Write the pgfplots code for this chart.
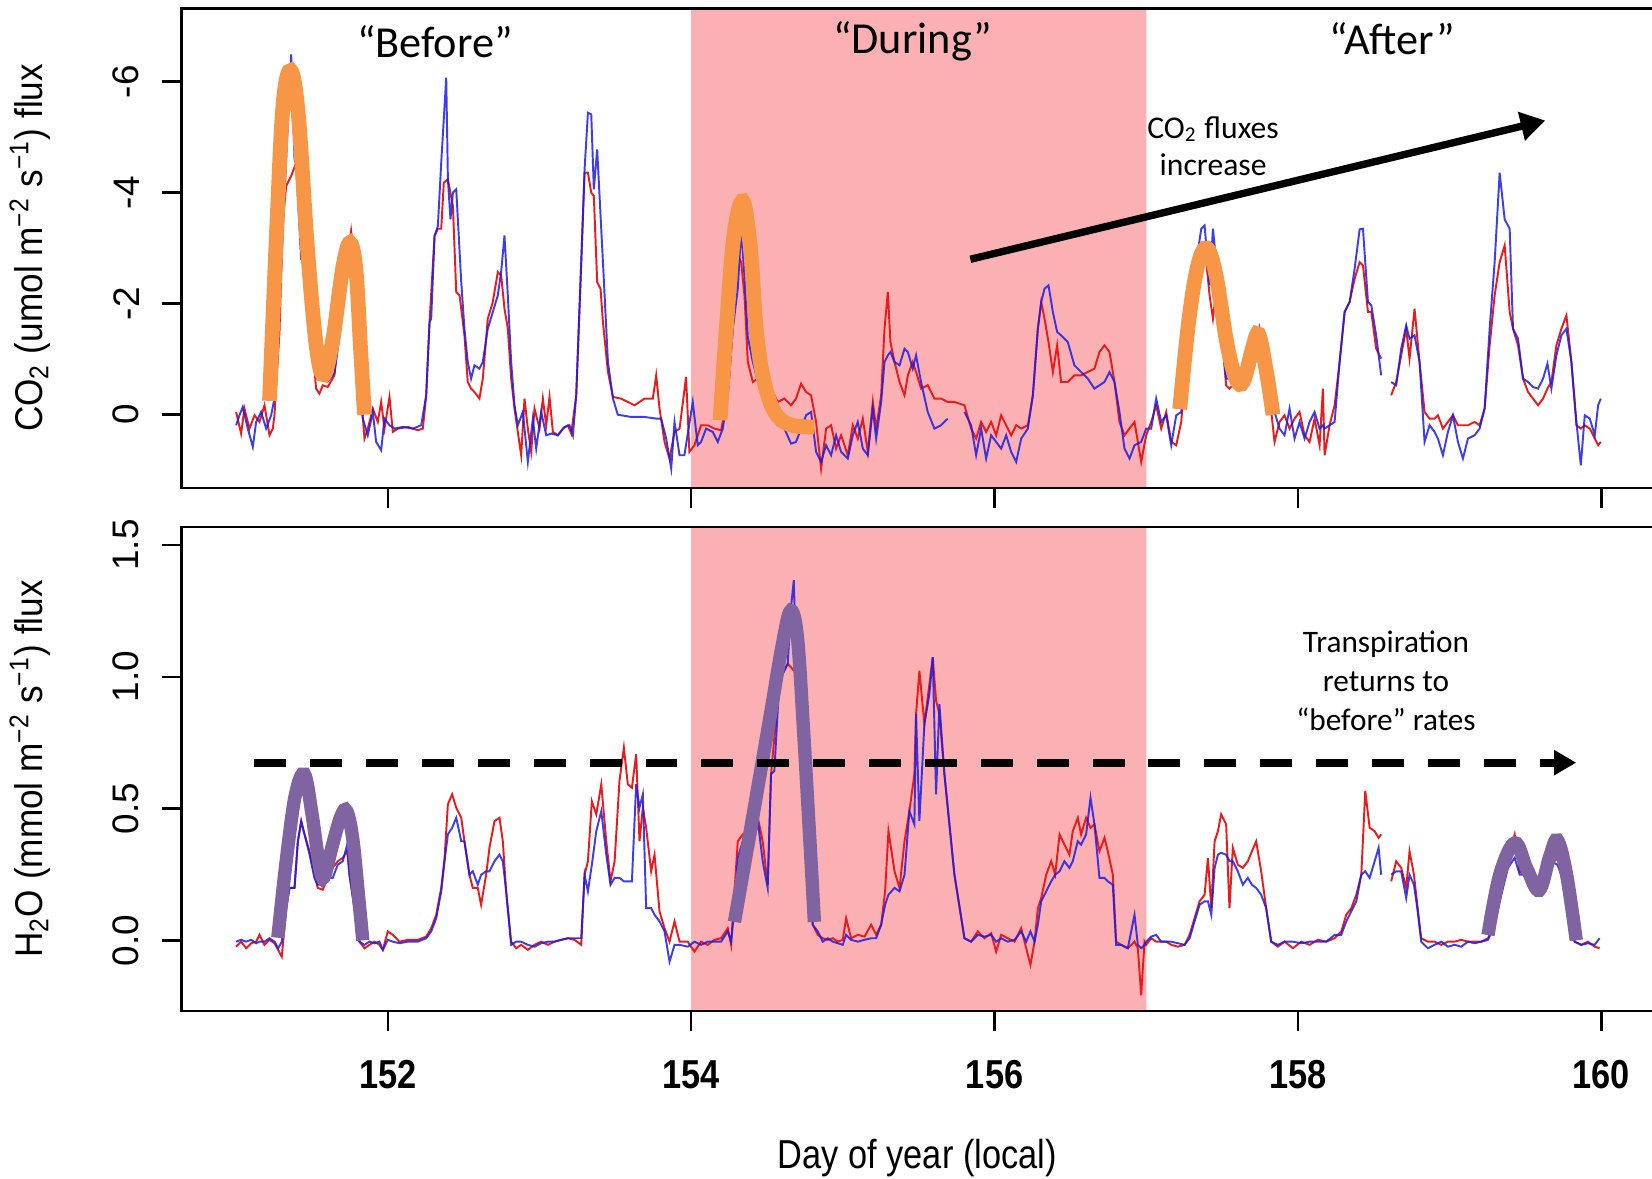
\documentclass[border=0pt]{standalone}
\usepackage{fontspec}
\setmainfont{Liberation Sans}
\newfontfamily\calibri{Carlito}
\usepackage{pgfplots}
\pgfplotsset{compat=1.18}
\usetikzlibrary{arrows.meta}

\definecolor{fluxred}{RGB}{232,28,28}
\definecolor{fluxblue}{RGB}{28,28,228}
\definecolor{droughtpink}{RGB}{251,177,180}
\definecolor{annorange}{RGB}{247,150,70}
\definecolor{annpurple}{RGB}{128,100,162}

\pgfplotsset{
  fluxpanel/.style={
    scale only axis,
    width=14.715cm,
    xmin=150.64, xmax=160.34,
    xtick={152,154,156,158,160},
    tick align=outside,
    major tick length=0.2cm,
    xtick pos=left, ytick pos=left,
    axis line style={line width=0.7pt},
    every tick/.style={black, line width=0.7pt},
    unbounded coords=jump,
    axis on top,
    yticklabel style={xshift=-0.1cm, rotate=90, anchor=south, font=\fontsize{10.5}{12}\selectfont},
  },
  redline/.style={fluxred, line width=0.55pt},
  blueline/.style={fluxblue, line width=0.55pt, opacity=0.85},
}

\begin{document}
\begin{tikzpicture}
\useasboundingbox (0,0) rectangle (16.52,11.78);

% ---------------- CO2 panel ----------------
\begin{axis}[fluxpanel,
  at={(1.815cm,6.90cm)}, anchor=south west,
  height=4.796cm,
  y dir=reverse,
  ymin=-7.32, ymax=1.32,
  ytick={-6,-4,-2,0}, yticklabels={-6,-4,-2,0},
  xticklabels={,,,,},
]
  % drought period
  \addplot[fill=droughtpink, draw=none] coordinates {(154,-7.32) (157,-7.32) (157,1.32) (154,1.32)} \closedcycle;

  \addplot[redline] coordinates {
    (151.000,-0.05) (151.033,0.34) (151.055,-0.11) (151.088,0.25) (151.121,0.01) (151.154,0.13) (151.187,-0.17) (151.220,0.37)
    (151.242,0.25) (151.253,0.0) (151.286,-1.5) (151.308,-3.5) (151.330,-4.12) (151.363,-4.3) (151.396,-4.54) (151.429,-2.8)
    (151.451,-2.75) (151.495,-1.55) (151.527,-0.47) (151.549,-0.38) (151.571,-0.53) (151.604,-0.50) (151.648,-0.71) (151.681,-1.55)
    (151.725,-2.63) (151.758,-3.31) (151.780,-2.75) (151.802,-1.55) (151.824,-0.35) (151.846,0.43) (151.868,0.25) (151.901,-0.11)
    (151.934,0.13) (151.956,-0.23) (151.978,0.25) (152.011,-0.32) (152.033,0.31) (152.066,0.25) (152.132,0.22) (152.198,0.28)
    (152.231,0.25) (152.253,-0.35) (152.275,-1.67) (152.308,-3.22) (152.330,-3.35) (152.352,-3.35) (152.369,-4.18) (152.396,-4.24)
    (152.429,-3.76) (152.451,-2.21) (152.473,-2.15) (152.505,-1.43) (152.527,-0.59) (152.549,-0.47) (152.571,-0.41) (152.604,-0.29)
    (152.626,-0.65) (152.659,-1.73) (152.692,-2.03) (152.725,-2.57) (152.747,-2.51) (152.769,-1.91) (152.791,-1.55) (152.813,-0.65)
    (152.835,-0.11) (152.857,0.31) (152.879,0.73) (152.901,-0.29) (152.923,0.25) (152.945,0.67) (152.967,-0.11) (153.000,0.25)
    (153.022,-0.29) (153.044,0.19) (153.066,-0.32) (153.088,0.31) (153.121,0.37) (153.154,0.25) (153.187,0.19) (153.209,0.34)
    (153.242,-0.35) (153.275,-2.75) (153.297,-4.36) (153.319,-4.36) (153.341,-4.0) (153.358,-3.94) (153.380,-2.39) (153.402,-2.27)
    (153.418,-1.67) (153.451,-0.77) (153.484,-0.32) (153.538,-0.29) (153.626,-0.17) (153.692,-0.29) (153.747,-0.29) (153.769,-0.71)
    (153.791,-0.11) (153.824,0.49) (153.857,0.79) (153.890,0.31) (153.923,0.25)
    (153.966,-0.68) (153.988,0.67) (154.021,0.55) (154.065,0.19) (154.109,0.19) (154.153,0.25) (154.197,0.28) (154.241,-0.35)
    (154.274,-1.55) (154.307,-2.87) (154.329,-2.75) (154.351,-2.15) (154.373,-0.95) (154.406,-0.59) (154.439,-0.65) (154.482,-0.41)
    (154.526,-0.47) (154.570,-0.23) (154.614,-0.29) (154.658,-0.17) (154.691,-0.29) (154.724,-0.56) (154.757,-0.41) (154.790,-0.35)
    (154.823,0.13) (154.856,0.97) (154.889,0.25) (154.922,0.19) (154.955,0.61) (154.988,0.37) (155.032,0.73) (155.065,0.19)
    (155.098,0.43) (155.131,0.07) (155.164,0.67) (155.197,-0.23) (155.219,0.25) (155.252,-0.35) (155.274,-1.55) (155.296,-2.21)
    (155.313,-1.31) (155.340,-0.95) (155.373,-0.59) (155.406,-0.35) (155.428,-0.71) (155.460,-0.95) (155.482,-0.77) (155.515,-0.47)
    (155.559,-0.53) (155.603,-0.29) (155.647,-0.29) (155.691,-0.23) (155.735,-0.23) (155.801,-0.17) (155.845,0.25) (155.878,0.43)
    (155.911,0.13) (155.944,0.31) (155.977,0.13) (156.010,0.37) (156.043,0.01) (156.076,0.19) (156.109,0.37) (156.142,0.19)
    (156.175,0.25) (156.219,0.19) (156.252,-0.35) (156.285,-1.55) (156.307,-2.03) (156.329,-1.73) (156.355,-1.31) (156.384,-0.77)
    (156.412,-1.25) (156.438,-0.59) (156.482,-0.59) (156.526,-0.71) (156.570,-0.71) (156.614,-0.77) (156.658,-0.83) (156.691,-1.13)
    (156.724,-1.25) (156.757,-1.13) (156.790,-0.59) (156.823,0.13) (156.856,0.37) (156.889,0.25) (156.922,0.13) (156.966,0.85)
    (156.999,0.37)
    (157.032,0.13) (157.065,-0.17) (157.098,0.25) (157.131,-0.05) (157.164,0.49) (157.197,0.55) (157.230,0.13) (157.263,-0.95)
    (157.296,-2.15) (157.329,-2.75) (157.362,-2.87) (157.384,-3.05) (157.417,-2.15) (157.439,-1.73) (157.461,-2.27) (157.493,-1.55)
    (157.526,-0.53) (157.548,-0.47) (157.592,-0.59) (157.636,-0.53) (157.669,-0.59) (157.713,-0.89) (157.746,-1.55) (157.779,-1.07)
    (157.812,-0.35) (157.845,0.49) (157.878,0.13) (157.911,0.01) (157.944,0.25) (157.977,0.07) (158.010,-0.05) (158.043,0.37)
    (158.076,0.49) (158.109,0.07) (158.142,0.55) (158.164,-0.47) (158.175,0.73) (158.208,0.19) (158.241,-0.17) (158.274,-0.95)
    (158.307,-1.85) (158.340,-2.03) (158.373,-2.45) (158.406,-2.75) (158.428,-2.69) (158.461,-1.85) (158.483,-1.85) (158.515,-1.19)
    (158.548,-1.01) (158.580,nan)
    (158.614,-0.35) (158.647,-0.59) (158.680,-1.07) (158.713,-1.55) (158.735,-1.01) (158.768,-1.91) (158.801,-0.95) (158.834,-0.05)
    (158.867,0.07) (158.900,0.07) (158.922,0.01) (158.955,0.25) (158.988,0.13) (159.021,0.01) (159.054,0.19) (159.087,0.19)
    (159.120,0.19) (159.164,0.13) (159.197,0.19) (159.230,-0.11) (159.263,-1.25) (159.296,-2.15) (159.329,-2.75) (159.362,-3.05)
    (159.395,-1.85) (159.417,-1.55) (159.450,-1.25) (159.483,-0.65) (159.516,-0.41) (159.549,-0.29) (159.582,-0.17) (159.615,-0.29)
    (159.644,-0.47) (159.670,-0.59) (159.703,-1.25) (159.736,-1.55) (159.769,-1.79) (159.802,-0.95) (159.835,0.19) (159.864,0.25)
    (159.890,0.19) (159.923,0.25) (159.956,0.43) (159.978,0.55) (159.996,0.49)
  };

  \addplot[blueline] coordinates {
    (151.000,0.19) (151.022,0.01) (151.044,-0.14) (151.077,0.25) (151.110,0.58) (151.132,0.13) (151.165,-0.05) (151.198,0.25)
    (151.231,0.01) (151.253,-0.3) (151.297,-2.63) (151.330,-4.6) (151.363,-6.49) (151.385,-4.6) (151.396,-4.5) (151.429,-2.9)
    (151.462,-2.3) (151.495,-1.5) (151.527,-0.8) (151.571,-0.7) (151.604,-0.6) (151.648,-0.75) (151.681,-1.4) (151.725,-2.5)
    (151.747,-3.0) (151.769,-2.9) (151.791,-1.8) (151.813,-0.7) (151.835,0.07) (151.868,0.37) (151.901,-0.05) (151.923,0.49)
    (151.956,0.64) (151.978,0.07) (152.011,0.19) (152.044,0.25) (152.099,0.22) (152.165,0.25) (152.220,0.19) (152.253,-0.35)
    (152.275,-1.67) (152.286,-1.73) (152.308,-3.22) (152.330,-3.4) (152.352,-4.54) (152.385,-6.07) (152.396,-4.24) (152.413,-3.52)
    (152.429,-4.0) (152.451,-4.06) (152.484,-2.39) (152.505,-1.55) (152.527,-0.95) (152.549,-0.65) (152.571,-0.89) (152.604,-0.83)
    (152.626,-0.95) (152.659,-1.55) (152.692,-1.85) (152.725,-2.15) (152.747,-2.57) (152.769,-3.23) (152.791,-2.15) (152.813,-0.95)
    (152.835,-0.17) (152.857,0.19) (152.890,-0.05) (152.923,0.85) (152.956,0.07) (152.978,0.61) (153.011,-0.05) (153.044,0.37)
    (153.077,0.34) (153.121,0.37) (153.165,0.22) (153.198,0.19) (153.220,0.37) (153.242,-0.35) (153.275,-2.75) (153.297,-4.42)
    (153.319,-5.44) (153.341,-5.41) (153.358,-4.06) (153.380,-4.78) (153.418,-2.75) (153.451,-0.95) (153.484,-0.29) (153.516,0.0)
    (153.604,0.04) (153.692,0.04) (153.769,0.07) (153.802,0.07) (153.835,0.43) (153.868,0.97) (153.890,0.13) (153.923,0.73)
    (153.955,0.73) (154.010,-0.23) (154.043,0.55) (154.065,0.49) (154.098,0.25) (154.142,0.31) (154.175,0.49) (154.208,0.25)
    (154.241,-0.35) (154.274,-1.55) (154.307,-2.27) (154.329,-3.35) (154.351,-2.5) (154.373,-1.4) (154.406,-0.95) (154.439,-0.6)
    (154.482,-0.35) (154.526,-0.17) (154.570,0.19) (154.614,0.25) (154.658,0.52) (154.691,0.49) (154.724,0.25) (154.757,0.01)
    (154.790,-0.05) (154.823,0.67) (154.856,0.85) (154.889,0.55) (154.922,0.73) (154.955,0.37) (154.988,0.67) (155.032,0.79)
    (155.065,0.37) (155.098,0.13) (155.131,0.61) (155.164,0.73) (155.197,-0.11) (155.219,0.43) (155.252,-0.23) (155.274,-0.95)
    (155.296,-1.07) (155.313,-1.13) (155.340,-0.95) (155.373,-0.89) (155.406,-1.19) (155.428,-1.13) (155.460,-0.83) (155.482,-1.07)
    (155.515,-0.59) (155.559,-0.05) (155.603,0.25) (155.647,0.19) (155.691,0.07) (155.750,nan)
    (155.801,-0.05) (155.845,0.19) (155.878,0.73) (155.911,0.25) (155.944,0.79) (155.977,0.37) (156.010,0.49) (156.043,0.61)
    (156.076,0.37) (156.109,0.67) (156.142,0.85) (156.175,0.43) (156.219,0.25) (156.252,-0.35) (156.285,-1.55) (156.307,-2.03)
    (156.329,-2.27) (156.355,-2.33) (156.384,-1.85) (156.412,-1.49) (156.438,-1.43) (156.482,-1.31) (156.526,-0.89) (156.570,-0.77)
    (156.614,-0.65) (156.658,-0.47) (156.691,-0.53) (156.724,-0.59) (156.757,-0.77) (156.790,-0.59) (156.823,-0.05) (156.856,0.61)
    (156.889,0.79) (156.922,0.55) (156.966,0.49) (156.999,0.25)
    (157.032,0.25) (157.065,-0.29) (157.098,0.13) (157.131,0.01) (157.164,0.55) (157.197,0.01) (157.230,-0.05) (157.263,-0.95)
    (157.296,-1.85) (157.329,-2.75) (157.362,-3.35) (157.384,-3.41) (157.417,-2.33) (157.439,-3.35) (157.461,-2.75) (157.493,-1.55)
    (157.526,-0.65) (157.548,-0.65) (157.592,-0.59) (157.636,-0.47) (157.669,-0.65) (157.713,-0.89) (157.746,-1.25) (157.779,-0.95)
    (157.812,-0.35) (157.845,-0.05) (157.878,0.25) (157.911,0.37) (157.944,-0.11) (157.977,0.43) (158.010,0.13) (158.043,0.43)
    (158.076,0.13) (158.109,-0.05) (158.142,0.25) (158.164,0.19) (158.175,0.25) (158.208,0.19) (158.241,0.13) (158.274,-0.95)
    (158.307,-1.85) (158.340,-2.03) (158.373,-2.63) (158.406,-3.34) (158.428,-3.35) (158.461,-2.03) (158.483,-1.97) (158.515,-1.43)
    (158.548,-0.71) (158.580,nan)
    (158.614,-0.59) (158.647,-0.53) (158.680,-1.19) (158.713,-1.61) (158.735,-1.37) (158.768,-1.43) (158.801,-0.95) (158.834,0.49)
    (158.867,0.19) (158.900,0.31) (158.922,0.43) (158.955,0.73) (158.988,0.31) (159.021,0.01) (159.054,0.49) (159.087,0.79)
    (159.120,0.43) (159.164,0.37) (159.197,0.25) (159.230,-0.11) (159.263,-1.55) (159.296,-2.75) (159.329,-4.36) (159.362,-3.52)
    (159.395,-3.35) (159.417,-1.55) (159.450,-1.37) (159.483,-0.65) (159.516,-0.59) (159.549,-0.50) (159.582,-0.47) (159.615,-0.65)
    (159.644,-0.92) (159.670,-0.47) (159.703,-1.07) (159.736,-1.43) (159.769,-1.55) (159.802,-0.95) (159.835,0.13) (159.864,0.91)
    (159.890,0.01) (159.923,0.07) (159.956,0.37) (159.978,-0.17) (159.996,-0.29)
  };

  % hand-drawn highlights
  \addplot[annorange, line width=4.2pt, smooth, tension=0.6] coordinates {
    (151.22,-0.25) (151.27,-3.5) (151.31,-5.6) (151.36,-6.2) (151.41,-5.4) (151.47,-3.0) (151.53,-1.2) (151.58,-0.72)
    (151.64,-1.4) (151.70,-2.6) (151.75,-3.1) (151.79,-2.6) (151.82,-1.2) (151.846,0.0)
  };
  \addplot[annorange, line width=4.2pt, smooth, tension=0.6] coordinates {
    (154.19,0.1) (154.23,-1.5) (154.28,-3.2) (154.34,-3.85) (154.39,-3.0) (154.43,-1.5) (154.48,-0.6) (154.55,-0.05)
    (154.65,0.18) (154.81,0.22)
  };
  \addplot[annorange, line width=4.2pt, smooth, tension=0.6] coordinates {
    (157.22,-0.1) (157.28,-1.7) (157.34,-2.7) (157.40,-3.0) (157.46,-2.5) (157.53,-1.3) (157.59,-0.65) (157.64,-0.6)
    (157.70,-1.2) (157.74,-1.45) (157.79,-0.8) (157.835,0.0)
  };

  \draw[line width=2.1pt, -{Triangle[length=7pt, width=8pt]}] (axis cs:155.84,-2.80) -- (axis cs:159.63,-5.30);

  \node[font=\calibri\fontsize{12.6}{15}\selectfont] at (axis cs:152.31,-6.72) {“Before”};
  \node[font=\calibri\fontsize{12.6}{15}\selectfont] at (axis cs:155.46,-6.72) {“During”};
  \node[font=\calibri\fontsize{12.6}{15}\selectfont] at (axis cs:158.62,-6.78) {“After”};
  \node[align=center, font=\calibri\fontsize{9}{10.5}\selectfont] at (axis cs:157.44,-4.84) {CO\textsubscript{2} fluxes\\increase};
\end{axis}

% ---------------- H2O panel ----------------
\begin{axis}[fluxpanel,
  at={(1.815cm,1.67cm)}, anchor=south west,
  height=4.84cm,
  ymin=-0.268, ymax=1.568,
  ytick={0,0.5,1,1.5}, yticklabels={0.0,0.5,1.0,1.5},
  xticklabels={\scalebox{0.85}[1]{152},\scalebox{0.85}[1]{154},\scalebox{0.85}[1]{156},\scalebox{0.85}[1]{158},\scalebox{0.85}[1]{160}},
  xticklabel style={font=\bfseries\fontsize{11.5}{13}\selectfont, yshift=-0.17cm},
  xlabel={\scalebox{0.85}[1]{Day of year (local)}},
  xlabel style={at={(rel axis cs:0.5,0)}, yshift=-1.47cm, anchor=center, font=\fontsize{11.5}{13}\selectfont},
]
  \addplot[fill=droughtpink, draw=none] coordinates {(154,-0.268) (157,-0.268) (157,1.568) (154,1.568)} \closedcycle;

  \addplot[redline] coordinates {
    (151.000,-0.024) (151.033,-0.005) (151.066,-0.030) (151.099,-0.011) (151.132,-0.005) (151.154,0.021) (151.187,-0.017) (151.220,0.002)
    (151.253,-0.011) (151.301,-0.062) (151.330,0.122) (151.352,0.199) (151.385,0.199) (151.407,0.376) (151.429,0.452) (151.451,0.402)
    (151.484,0.338) (151.516,0.249) (151.538,0.199) (151.571,0.192) (151.604,0.237) (151.637,0.275) (151.670,0.300) (151.703,0.313)
    (151.732,0.338) (151.747,0.249) (151.780,0.122) (151.813,-0.005) (151.846,-0.030) (151.879,-0.017) (151.912,-0.005) (151.945,-0.017)
    (151.967,-0.036) (152.000,0.034) (152.033,0.021) (152.077,-0.005) (152.132,0.002) (152.198,0.002) (152.253,0.014) (152.286,0.046)
    (152.319,0.097) (152.352,0.199) (152.374,0.313) (152.396,0.516) (152.424,0.554) (152.451,0.503) (152.484,0.465) (152.505,0.376)
    (152.538,0.249) (152.560,0.199) (152.593,0.199) (152.615,0.135) (152.648,0.249) (152.670,0.351) (152.703,0.452) (152.736,0.465)
    (152.758,0.376) (152.780,0.186) (152.813,-0.005) (152.846,-0.030) (152.879,-0.017) (152.923,-0.036) (152.967,-0.017) (153.011,-0.005)
    (153.055,-0.017) (153.099,-0.005) (153.143,0.002) (153.187,0.008) (153.231,0.002) (153.275,-0.017) (153.297,0.249) (153.319,0.300)
    (153.345,0.528) (153.374,0.478) (153.407,0.592) (153.440,0.376) (153.468,0.224) (153.495,0.300) (153.527,0.605) (153.556,0.731)
    (153.582,0.592) (153.609,0.579) (153.637,0.706) (153.659,0.376) (153.681,0.503) (153.703,0.427) (153.736,0.262) (153.758,0.325)
    (153.791,0.110) (153.824,0.046) (153.857,-0.005) (153.890,0.072) (153.923,-0.005)
    (153.977,-0.005) (154.021,-0.043) (154.065,-0.005) (154.109,-0.017) (154.153,0.002) (154.197,0.008) (154.241,0.046) (154.263,-0.017)
    (154.285,0.186) (154.307,0.376) (154.340,0.402) (154.373,0.376) (154.406,0.363) (154.439,0.465) (154.471,0.376) (154.504,0.211)
    (154.526,0.630) (154.548,0.770) (154.581,0.985) (154.603,1.011) (154.636,1.049) (154.658,1.036) (154.676,1.023) (154.691,1.023)
    (154.713,0.884) (154.735,0.630) (154.768,0.313) (154.801,0.059) (154.834,0.021) (154.867,0.008) (154.900,0.002) (154.933,0.008)
    (154.966,-0.005) (154.999,0.002) (155.021,0.084) (155.054,0.008) (155.098,0.021) (155.142,0.014) (155.186,0.059) (155.219,0.021)
    (155.252,0.059) (155.278,0.186) (155.300,0.414) (155.340,0.262) (155.373,0.199) (155.406,0.376) (155.438,0.490) (155.471,0.630)
    (155.482,0.858) (155.504,1.023) (155.537,0.820) (155.570,0.972) (155.592,1.074) (155.614,0.909) (155.636,0.858) (155.669,0.630)
    (155.691,0.503) (155.735,0.249) (155.801,0.008) (155.845,-0.005) (155.889,0.034) (155.933,0.008) (155.977,0.027) (156.010,-0.043)
    (156.043,0.021) (156.087,0.008) (156.131,-0.005) (156.175,0.046) (156.208,-0.030) (156.236,-0.093) (156.263,-0.005) (156.285,0.122)
    (156.307,0.160) (156.340,0.249) (156.373,0.300) (156.399,0.249) (156.428,0.402) (156.460,0.363) (156.493,0.325) (156.515,0.414)
    (156.548,0.465) (156.570,0.402) (156.603,0.465) (156.632,0.427) (156.658,0.440) (156.691,0.338) (156.724,0.389) (156.746,0.338)
    (156.779,0.249) (156.801,-0.005) (156.834,-0.017) (156.878,-0.030) (156.922,-0.005) (156.944,-0.030) (156.966,-0.208) (156.988,-0.005)
    (156.999,-0.017) (157.032,0.008) (157.065,-0.005) (157.098,-0.005) (157.131,-0.005) (157.164,-0.017) (157.208,-0.024) (157.252,-0.017)
    (157.285,0.021) (157.318,0.084) (157.351,0.148) (157.384,0.173) (157.406,0.313) (157.428,0.122) (157.450,0.376) (157.472,0.414)
    (157.493,0.478) (157.526,0.440) (157.548,0.122) (157.570,0.351) (157.603,0.287) (157.636,0.275) (157.669,0.300) (157.696,0.338)
    (157.724,0.376) (157.757,0.262) (157.790,0.122) (157.823,-0.005) (157.867,-0.024) (157.911,-0.005) (157.966,-0.030) (158.021,-0.005)
    (158.076,-0.017) (158.131,0.002) (158.186,-0.005) (158.241,0.008) (158.285,0.034) (158.318,0.097) (158.351,0.122) (158.384,0.173)
    (158.417,0.249) (158.443,0.567) (158.472,0.427) (158.505,0.414) (158.531,0.389) (158.548,0.402) (158.580,nan)
    (158.614,0.224) (158.647,0.300) (158.680,0.275) (158.713,0.199) (158.735,0.338) (158.764,0.249) (158.786,0.135) (158.812,0.008)
    (158.856,-0.005) (158.900,-0.005) (158.944,-0.017) (158.988,-0.005) (159.032,-0.005) (159.076,0.002) (159.120,-0.005) (159.164,-0.005)
    (159.208,-0.005) (159.252,0.008) (159.296,0.059) (159.340,0.186) (159.384,0.313) (159.428,0.402) (159.461,0.262) (159.493,0.249)
    (159.537,0.224) (159.581,0.211) (159.625,0.186) (159.669,0.287) (159.709,0.313) (159.735,0.249) (159.779,0.122) (159.823,-0.005)
    (159.867,-0.017) (159.911,-0.005) (159.955,-0.024) (159.988,-0.030)
  };

  \addplot[blueline] coordinates {
    (151.000,-0.005) (151.033,0.002) (151.066,-0.005) (151.099,0.002) (151.132,-0.011) (151.154,-0.005) (151.187,-0.005) (151.220,0.008)
    (151.253,-0.005) (151.277,-0.030) (151.301,-0.005) (151.330,0.122) (151.352,0.199) (151.385,0.199) (151.407,0.376) (151.429,0.452)
    (151.451,0.402) (151.484,0.325) (151.516,0.237) (151.538,0.211) (151.571,0.211) (151.604,0.237) (151.637,0.237) (151.670,0.287)
    (151.703,0.300) (151.732,0.363) (151.747,0.249) (151.780,0.122) (151.813,-0.005) (151.846,-0.017) (151.879,-0.005) (151.912,-0.011)
    (151.945,-0.005) (151.967,-0.036) (152.000,0.002) (152.033,-0.005) (152.077,-0.011) (152.132,-0.005) (152.198,-0.005) (152.253,0.008)
    (152.286,0.034) (152.319,0.084) (152.352,0.186) (152.374,0.300) (152.396,0.402) (152.424,0.427) (152.451,0.465) (152.484,0.376)
    (152.505,0.376) (152.538,0.249) (152.560,0.262) (152.593,0.211) (152.615,0.249) (152.648,0.262) (152.670,0.262) (152.703,0.300)
    (152.736,0.325) (152.758,0.300) (152.780,0.186) (152.813,-0.017) (152.846,-0.005) (152.879,-0.005) (152.923,-0.017) (152.967,-0.024)
    (153.011,-0.011) (153.055,-0.005) (153.099,-0.005) (153.143,0.002) (153.187,0.008) (153.231,0.008) (153.275,0.008) (153.297,0.249)
    (153.319,0.186) (153.345,0.287) (153.374,0.414) (153.407,0.490) (153.440,0.325) (153.468,0.211) (153.495,0.237) (153.527,0.237)
    (153.556,0.224) (153.582,0.224) (153.609,0.224) (153.637,0.592) (153.659,0.503) (153.681,0.554) (153.703,0.122) (153.736,0.122)
    (153.758,0.097) (153.791,0.072) (153.824,0.034) (153.857,-0.081) (153.890,-0.017) (153.923,-0.017)
    (153.977,-0.024) (154.021,-0.005) (154.065,-0.017) (154.109,-0.005) (154.153,-0.005) (154.197,-0.005) (154.241,0.034) (154.263,-0.005)
    (154.285,0.122) (154.307,0.313) (154.340,0.376) (154.373,0.363) (154.406,0.351) (154.439,0.452) (154.471,0.300) (154.504,0.199)
    (154.526,0.630) (154.548,0.643) (154.581,0.985) (154.603,1.011) (154.636,1.049) (154.658,1.264) (154.676,1.366) (154.691,1.087)
    (154.713,0.884) (154.735,0.630) (154.768,0.313) (154.801,0.059) (154.834,0.034) (154.867,-0.005) (154.900,0.008) (154.933,-0.005)
    (154.966,-0.011) (154.999,-0.017) (155.021,0.021) (155.054,0.002) (155.098,-0.005) (155.142,0.002) (155.186,0.008) (155.219,0.008)
    (155.252,0.059) (155.278,0.135) (155.300,0.173) (155.340,0.199) (155.373,0.186) (155.406,0.249) (155.438,0.490) (155.471,0.440)
    (155.482,0.858) (155.504,0.452) (155.537,0.820) (155.570,0.935) (155.592,1.074) (155.614,0.554) (155.636,0.896) (155.669,0.630)
    (155.691,0.503) (155.735,0.249) (155.801,0.008) (155.845,-0.005) (155.889,0.021) (155.933,0.014) (155.977,0.021) (156.010,-0.005)
    (156.043,0.008) (156.087,-0.005) (156.131,0.002) (156.175,0.034) (156.208,-0.005) (156.236,0.034) (156.263,-0.005) (156.285,0.059)
    (156.307,0.148) (156.340,0.186) (156.373,0.224) (156.399,0.249) (156.428,0.262) (156.460,0.300) (156.493,0.275) (156.515,0.300)
    (156.548,0.376) (156.570,0.363) (156.603,0.402) (156.632,0.541) (156.658,0.440) (156.691,0.237) (156.724,0.237) (156.746,0.224)
    (156.779,0.211) (156.801,-0.017) (156.834,-0.017) (156.878,-0.030) (156.922,0.097) (156.944,-0.017) (156.966,-0.030) (156.988,-0.017)
    (156.999,-0.005) (157.032,0.014) (157.065,0.021) (157.098,-0.005) (157.131,-0.005) (157.164,-0.005) (157.208,-0.011) (157.252,-0.017)
    (157.285,0.008) (157.318,0.072) (157.351,0.135) (157.384,0.148) (157.406,0.148) (157.428,0.097) (157.450,0.275) (157.472,0.325)
    (157.493,0.332) (157.526,0.325) (157.548,0.300) (157.570,0.300) (157.603,0.262) (157.636,0.211) (157.669,0.237) (157.696,0.211)
    (157.724,0.199) (157.757,0.173) (157.790,0.122) (157.823,-0.005) (157.867,-0.017) (157.911,-0.005) (157.966,-0.005) (158.021,-0.011)
    (158.076,-0.005) (158.131,-0.005) (158.186,-0.005) (158.241,0.021) (158.285,0.021) (158.318,0.072) (158.351,0.110) (158.384,0.148)
    (158.417,0.249) (158.443,0.262) (158.472,0.237) (158.505,0.300) (158.531,0.351) (158.548,0.249) (158.580,nan)
    (158.614,0.249) (158.647,0.262) (158.680,0.262) (158.713,0.160) (158.735,0.249) (158.764,0.211) (158.786,0.122) (158.812,-0.005)
    (158.856,-0.030) (158.900,-0.017) (158.944,-0.005) (158.988,-0.024) (159.032,-0.017) (159.076,-0.024) (159.120,-0.005) (159.164,-0.011)
    (159.208,-0.005) (159.252,0.002) (159.296,0.059) (159.340,0.173) (159.384,0.275) (159.428,0.313) (159.461,0.249) (159.493,0.249)
    (159.537,0.237) (159.581,0.224) (159.625,0.199) (159.669,0.300) (159.709,0.287) (159.735,0.249) (159.779,0.122) (159.823,-0.005)
    (159.867,-0.017) (159.911,-0.011) (159.955,-0.017) (159.988,0.008)
  };

  % hand-drawn highlights
  \addplot[annpurple, line width=3.8pt, smooth, tension=0.6] coordinates {
    (151.275,0.01) (151.33,0.3) (151.39,0.55) (151.45,0.63) (151.50,0.48) (151.55,0.28) (151.58,0.24) (151.63,0.35)
    (151.69,0.47) (151.73,0.49) (151.77,0.38) (151.81,0.15) (151.835,0.0)
  };
  \addplot[annpurple, line width=3.8pt, smooth, tension=0.6] coordinates {
    (154.285,0.07) (154.40,0.45) (154.52,0.85) (154.60,1.12) (154.655,1.25) (154.70,1.15) (154.74,0.8) (154.78,0.4) (154.812,0.07)
  };
  \addplot[annpurple, line width=3.8pt, smooth, tension=0.6] coordinates {
    (159.252,0.02) (159.33,0.25) (159.43,0.37) (159.51,0.27) (159.59,0.19) (159.66,0.32) (159.71,0.38) (159.77,0.25) (159.834,0.0)
  };

  \draw[line width=2.3pt, dash pattern=on 9.1pt off 6.8pt, -{Triangle[length=6.3pt, width=6.8pt]}]
    (axis cs:151.12,0.674) -- (axis cs:159.834,0.674);

  \node[align=center, font=\calibri\fontsize{8.9}{11.1}\selectfont] at (axis cs:158.58,0.983) {Transpiration\\returns to\\“before” rates};
\end{axis}

% y-axis titles
\node[rotate=90, font=\fontsize{10}{12}\selectfont] at (0.30cm,9.30cm) {\scalebox{1}[1.1]{CO\textsubscript{2} (umol m\textsuperscript{−2} s\textsuperscript{−1}) flux}};
\node[rotate=90, font=\fontsize{10}{12}\selectfont] at (0.30cm,4.09cm) {\scalebox{1}[1.1]{H\textsubscript{2}O (mmol m\textsuperscript{−2} s\textsuperscript{−1}) flux}};
\end{tikzpicture}
\end{document}
